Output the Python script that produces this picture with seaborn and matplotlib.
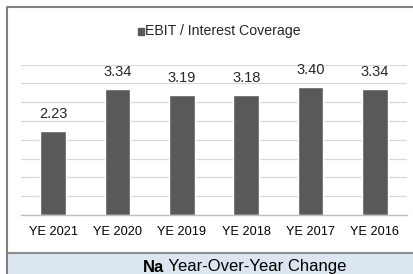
import matplotlib
matplotlib.use("Agg")
import matplotlib.pyplot as plt
import seaborn as sns
import pandas as pd
from matplotlib.patches import Rectangle
from matplotlib.lines import Line2D

years = ["YE 2021", "YE 2020", "YE 2019", "YE 2018", "YE 2017", "YE 2016"]
coverage = [2.23, 3.34, 3.19, 3.18, 3.40, 3.34]
series_name = "EBIT / Interest Coverage"
footer_bold = "Na"
footer_text = " Year-Over-Year Change"

W, H = 414, 274
BAR = "#595959"

sns.set_style("white")
plt.rcParams["font.family"] = ["Liberation Sans", "DejaVu Sans"]

df = pd.DataFrame({"year": years, "value": coverage})

fig = plt.figure(figsize=(W / 100, H / 100), dpi=100)
ax = fig.add_axes([21 / W, 59 / H, 386 / W, 150.5 / H])

sns.barplot(data=df, x="year", y="value", color=BAR, width=0.4,
            saturation=1, ax=ax)
ax.set_ylim(0, 4)
ax.set_yticks([i * 0.5 for i in range(9)])
ax.yaxis.grid(True, color="#d9d9d9", linewidth=0.9)
ax.set_axisbelow(True)
ax.set_yticklabels([])
ax.tick_params(axis="y", length=0)
ax.tick_params(axis="x", length=0, pad=8, labelsize=9.2, colors="#000000")
ax.set_xlabel("")
ax.set_ylabel("")
for s in ["top", "right", "left"]:
    ax.spines[s].set_visible(False)
ax.spines["bottom"].set_color("#bfbfbf")
ax.spines["bottom"].set_linewidth(1.0)

for i, v in enumerate(coverage):
    ax.annotate(f"{v:.2f}", (i, v), xytext=(0, 7.5), textcoords="offset points",
                ha="center", va="bottom", fontsize=10.5, color="#262626")

# legend-style title
fig.patches.append(Rectangle((138 / W, (H - 35) / H), 6.5 / W, 6.5 / H,
                             transform=fig.transFigure, color=BAR))
fig.text(145 / W, (H - 31) / H, series_name, fontsize=10.2, color="#262626",
         ha="left", va="center")

# frame
fig.add_artist(Line2D([8 / W, 1], [(H - 7) / H, (H - 7) / H],
                      transform=fig.transFigure, color="#808080", linewidth=1.5))
fig.add_artist(Line2D([7 / W, 7 / W], [0, (H - 7) / H],
                      transform=fig.transFigure, color="#808080", linewidth=1.5))

# footer band
fig.patches.append(Rectangle((8 / W, 0), 1 - 8 / W, 20 / H,
                             transform=fig.transFigure, color="#dce6f1", zorder=0))
fig.add_artist(Line2D([8 / W, 1], [(H - 253) / H, (H - 253) / H],
                      transform=fig.transFigure, color="#8c8c8c", linewidth=1.5))

t1 = fig.text(143 / W, (H - 271.5) / H, footer_bold, fontsize=12,
              fontweight="bold", color="#000000", ha="left", va="baseline")
fig.canvas.draw()
bb = t1.get_window_extent(fig.canvas.get_renderer())
fig.text(bb.x1 / W, (H - 271.5) / H, footer_text, fontsize=12,
         color="#000000", ha="left", va="baseline")

fig.savefig("out.png", dpi=100)
